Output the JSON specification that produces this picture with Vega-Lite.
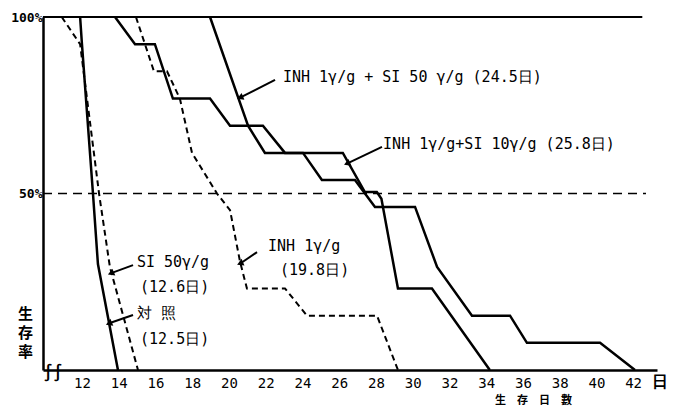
{
  "$schema": "https://vega.github.io/schema/vega-lite/v6.json",
  "width": 614,
  "height": 353,
  "autosize": {"type": "none"},
  "padding": {"left": 43, "top": 17, "right": 19, "bottom": 37},
  "background": "white",
  "config": {"view": {"stroke": null}, "font": "DejaVu Sans Mono"},
  "datasets": {
    "refs": [
      {"kind": "top", "x": 9.88, "x2": 42.5, "y": 100},
      {"kind": "half", "x": 9.88, "x2": 42.7, "y": 50}
    ],
    "curves": [
      {"s": "対照", "style": "solid", "k": 0, "day": 11.9, "pct": 100},
      {"s": "対照", "style": "solid", "k": 1, "day": 12.0, "pct": 92.3},
      {"s": "対照", "style": "solid", "k": 2, "day": 12.6, "pct": 50},
      {"s": "対照", "style": "solid", "k": 3, "day": 12.87, "pct": 30},
      {"s": "対照", "style": "solid", "k": 4, "day": 13.96, "pct": 0},
      {"s": "SI 50", "style": "dashed", "k": 0, "day": 10.9, "pct": 100},
      {"s": "SI 50", "style": "dashed", "k": 1, "day": 11.9, "pct": 92.3},
      {"s": "SI 50", "style": "dashed", "k": 2, "day": 12.93, "pct": 50},
      {"s": "SI 50", "style": "dashed", "k": 3, "day": 13.52, "pct": 29.2},
      {"s": "SI 50", "style": "dashed", "k": 4, "day": 15.05, "pct": 0},
      {"s": "INH 1", "style": "dashed", "k": 0, "day": 14.94, "pct": 100},
      {"s": "INH 1", "style": "dashed", "k": 1, "day": 15.92, "pct": 84.6},
      {"s": "INH 1", "style": "dashed", "k": 2, "day": 16.63, "pct": 84.6},
      {"s": "INH 1", "style": "dashed", "k": 3, "day": 17.33, "pct": 76.9},
      {"s": "INH 1", "style": "dashed", "k": 4, "day": 17.99, "pct": 61.5},
      {"s": "INH 1", "style": "dashed", "k": 5, "day": 19.35, "pct": 50},
      {"s": "INH 1", "style": "dashed", "k": 6, "day": 20.06, "pct": 45.3},
      {"s": "INH 1", "style": "dashed", "k": 7, "day": 20.6, "pct": 30.8},
      {"s": "INH 1", "style": "dashed", "k": 8, "day": 20.98, "pct": 23.1},
      {"s": "INH 1", "style": "dashed", "k": 9, "day": 23.05, "pct": 23.1},
      {"s": "INH 1", "style": "dashed", "k": 10, "day": 24.25, "pct": 15.4},
      {"s": "INH 1", "style": "dashed", "k": 11, "day": 28.06, "pct": 15.4},
      {"s": "INH 1", "style": "dashed", "k": 12, "day": 29.2, "pct": 0},
      {"s": "INH 1 + SI 50", "style": "solid", "k": 0, "day": 18.97, "pct": 100},
      {"s": "INH 1 + SI 50", "style": "solid", "k": 1, "day": 21.04, "pct": 69.2},
      {"s": "INH 1 + SI 50", "style": "solid", "k": 2, "day": 21.96, "pct": 61.5},
      {"s": "INH 1 + SI 50", "style": "solid", "k": 3, "day": 26.2, "pct": 61.5},
      {"s": "INH 1 + SI 50", "style": "solid", "k": 4, "day": 27.4, "pct": 50.4},
      {"s": "INH 1 + SI 50", "style": "solid", "k": 5, "day": 28.05, "pct": 50.4},
      {"s": "INH 1 + SI 50", "style": "solid", "k": 6, "day": 28.3, "pct": 48.5},
      {"s": "INH 1 + SI 50", "style": "solid", "k": 7, "day": 29.2, "pct": 23.1},
      {"s": "INH 1 + SI 50", "style": "solid", "k": 8, "day": 31.05, "pct": 23.1},
      {"s": "INH 1 + SI 50", "style": "solid", "k": 9, "day": 34.2, "pct": 0},
      {"s": "INH 1 + SI 10", "style": "solid", "k": 0, "day": 13.8, "pct": 100},
      {"s": "INH 1 + SI 10", "style": "solid", "k": 1, "day": 14.89, "pct": 92.3},
      {"s": "INH 1 + SI 10", "style": "solid", "k": 2, "day": 15.97, "pct": 92.3},
      {"s": "INH 1 + SI 10", "style": "solid", "k": 3, "day": 16.95, "pct": 76.9},
      {"s": "INH 1 + SI 10", "style": "solid", "k": 4, "day": 18.97, "pct": 76.9},
      {"s": "INH 1 + SI 10", "style": "solid", "k": 5, "day": 20.06, "pct": 69.2},
      {"s": "INH 1 + SI 10", "style": "solid", "k": 6, "day": 21.85, "pct": 69.2},
      {"s": "INH 1 + SI 10", "style": "solid", "k": 7, "day": 23.05, "pct": 61.5},
      {"s": "INH 1 + SI 10", "style": "solid", "k": 8, "day": 24.03, "pct": 61.5},
      {"s": "INH 1 + SI 10", "style": "solid", "k": 9, "day": 25.06, "pct": 53.8},
      {"s": "INH 1 + SI 10", "style": "solid", "k": 10, "day": 26.86, "pct": 53.8},
      {"s": "INH 1 + SI 10", "style": "solid", "k": 11, "day": 27.95, "pct": 46.2},
      {"s": "INH 1 + SI 10", "style": "solid", "k": 12, "day": 30.13, "pct": 46.2},
      {"s": "INH 1 + SI 10", "style": "solid", "k": 13, "day": 31.33, "pct": 29.2},
      {"s": "INH 1 + SI 10", "style": "solid", "k": 14, "day": 33.23, "pct": 15.4},
      {"s": "INH 1 + SI 10", "style": "solid", "k": 15, "day": 35.3, "pct": 15.4},
      {"s": "INH 1 + SI 10", "style": "solid", "k": 16, "day": 36.22, "pct": 7.7},
      {"s": "INH 1 + SI 10", "style": "solid", "k": 17, "day": 40.2, "pct": 7.7},
      {"s": "INH 1 + SI 10", "style": "solid", "k": 18, "day": 42.1, "pct": 0}
    ],
    "arrows": [
      {"x": 22.51, "y": 82.2, "x2": 20.66, "y2": 77.3},
      {"x": 28.33, "y": 63.2, "x2": 26.48, "y2": 58.6},
      {"x": 21.53, "y": 33.4, "x2": 20.66, "y2": 30.3},
      {"x": 14.78, "y": 29.7, "x2": 13.63, "y2": 27.5},
      {"x": 14.78, "y": 15.6, "x2": 13.52, "y2": 13.3}
    ],
    "labels": [
      {"day": 22.94, "pct": 83.0, "text": "INH 1γ/g + SI 50 γ/g (24.5日)"},
      {"day": 28.39, "pct": 64.0, "text": "INH 1γ/g+SI 10γ/g (25.8日)"},
      {"day": 22.13, "pct": 35.1, "text": "INH 1γ/g"},
      {"day": 22.78, "pct": 28.3, "text": "(19.8日)"},
      {"day": 14.99, "pct": 30.6, "text": "SI 50γ/g"},
      {"day": 15.16, "pct": 23.5, "text": "(12.6日)"},
      {"day": 14.99, "pct": 16.1, "text": "対 照"},
      {"day": 15.16, "pct": 8.8, "text": "(12.5日)"}
    ],
    "marks2": [
      {"day": 43.46, "pct": -3.3, "text": "日"},
      {"day": 10.42, "pct": -0.8, "text": "∫∫"}
    ]
  },
  "layer": [
    {
      "data": {"name": "refs"},
      "transform": [{"filter": "datum.kind === 'top'"}],
      "mark": {"type": "rule", "color": "black", "strokeWidth": 2.2},
      "encoding": {
        "x": {
          "field": "x", "type": "quantitative",
          "scale": {"domain": [9.88, 43.3], "nice": false, "zero": false},
          "axis": {
            "values": [12, 14, 16, 18, 20, 22, 24, 26, 28, 30, 32, 34, 36, 38, 40, 42],
            "labelFont": "DejaVu Sans Mono", "labelFontSize": 14, "labelColor": "black",
            "labelPadding": 6, "tickSize": 0, "grid": false,
            "domainColor": "black", "domainWidth": 2.5,
            "title": "生　存　日　數", "titleFont": "Noto Sans CJK JP", "titleFontSize": 11,
            "titleFontWeight": "bold", "titleColor": "black",
            "titleX": 490, "titleY": 30, "titleAlign": "center", "titleBaseline": "middle"
          }
        },
        "x2": {"field": "x2"},
        "y": {
          "field": "y", "type": "quantitative",
          "scale": {"domain": [0, 100], "nice": false},
          "axis": {
            "values": [50, 100], "labelExpr": "datum.value + '%'",
            "labelFont": "DejaVu Sans Mono", "labelFontSize": 13, "labelColor": "black",
            "labelFontWeight": "bold", "labelPadding": 1, "tickSize": 0, "grid": false,
            "domainColor": "black", "domainWidth": 2.5,
            "title": ["生", "存", "率"], "titleFont": "Noto Sans CJK JP", "titleFontSize": 15,
            "titleFontWeight": "bold", "titleColor": "black", "titleAngle": 0,
            "titleLineHeight": 19, "titleX": -18, "titleY": 296,
            "titleAlign": "center", "titleBaseline": "middle"
          }
        }
      }
    },
    {
      "data": {"name": "refs"},
      "transform": [{"filter": "datum.kind === 'half'"}],
      "mark": {"type": "rule", "color": "black", "strokeWidth": 1.6, "strokeDash": [9, 6]},
      "encoding": {
        "x": {"field": "x", "type": "quantitative"},
        "x2": {"field": "x2"},
        "y": {"field": "y", "type": "quantitative"}
      }
    },
    {
      "data": {"name": "curves"},
      "transform": [{"filter": "datum.style === 'solid'"}],
      "mark": {"type": "line", "color": "black", "strokeWidth": 2.5, "interpolate": "linear"},
      "encoding": {
        "x": {"field": "day", "type": "quantitative"},
        "y": {"field": "pct", "type": "quantitative"},
        "detail": {"field": "s"},
        "order": {"field": "k"}
      }
    },
    {
      "data": {"name": "curves"},
      "transform": [{"filter": "datum.style === 'dashed'"}],
      "mark": {"type": "line", "color": "black", "strokeWidth": 2, "strokeDash": [6, 4]},
      "encoding": {
        "x": {"field": "day", "type": "quantitative"},
        "y": {"field": "pct", "type": "quantitative"},
        "detail": {"field": "s"},
        "order": {"field": "k"}
      }
    },
    {
      "data": {"name": "arrows"},
      "mark": {"type": "rule", "color": "black", "strokeWidth": 2},
      "encoding": {
        "x": {"field": "x", "type": "quantitative"},
        "y": {"field": "y", "type": "quantitative"},
        "x2": {"field": "x2"},
        "y2": {"field": "y2"}
      }
    },
    {
      "data": {"name": "arrows"},
      "mark": {"type": "point", "shape": "triangle", "filled": true, "color": "black", "size": 55, "angle": 247, "opacity": 1},
      "encoding": {
        "x": {"field": "x2", "type": "quantitative"},
        "y": {"field": "y2", "type": "quantitative"}
      }
    },
    {
      "data": {"name": "labels"},
      "mark": {"type": "text", "align": "left", "baseline": "middle", "font": "DejaVu Sans Mono", "fontSize": 15, "color": "black"},
      "encoding": {
        "x": {"field": "day", "type": "quantitative"},
        "y": {"field": "pct", "type": "quantitative"},
        "text": {"field": "text"}
      }
    },
    {
      "data": {"name": "marks2"},
      "mark": {"type": "text", "align": "center", "baseline": "middle", "font": "DejaVu Sans Mono", "fontSize": 16, "fontWeight": "bold", "color": "black"},
      "encoding": {
        "x": {"field": "day", "type": "quantitative"},
        "y": {"field": "pct", "type": "quantitative"},
        "text": {"field": "text"}
      }
    }
  ]
}
